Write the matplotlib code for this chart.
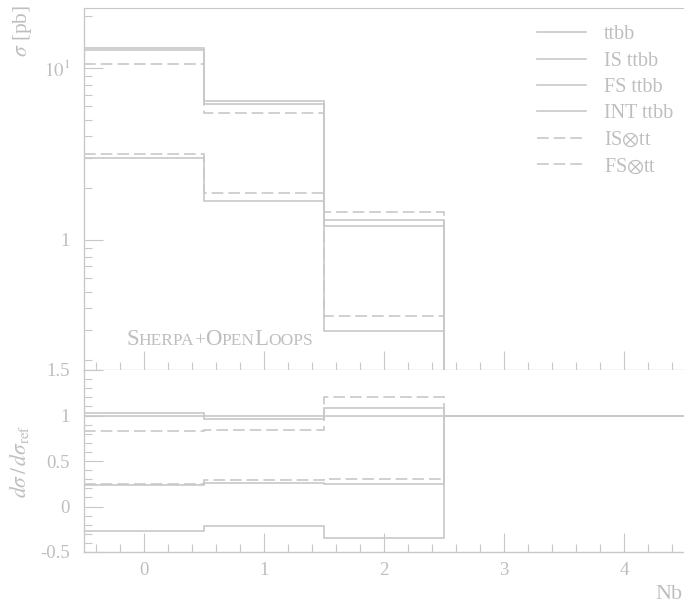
import numpy as np
import matplotlib

matplotlib.use("Agg")
import matplotlib.pyplot as plt
from matplotlib.ticker import FixedLocator, MultipleLocator, NullFormatter, FuncFormatter
from matplotlib.transforms import offset_copy

# Cross sections per b-jet multiplicity bin (pb)
edges = [-0.5, 0.5, 1.5, 2.5, 3.5, 4.5]
xs_ttbb = [12.7, 6.45, 1.21, 0.0, 0.0]
xs_is_ttbb = [13.0, 6.18, 1.31, 0.0, 0.0]
xs_fs_ttbb = [2.98, 1.68, 0.294, 0.0, 0.0]
xs_int_ttbb = [-3.4, -1.35, -0.415, 0.0, 0.0]
xs_is_tt = [10.5, 5.45, 1.45, 0.0, 0.0]
xs_fs_tt = [3.15, 1.88, 0.363, 0.0, 0.0]

labels = ["ttbb", "IS ttbb", "FS ttbb", "INT ttbb", r"IS$\otimes$tt", r"FS$\otimes$tt"]
series = [xs_ttbb, xs_is_ttbb, xs_fs_ttbb, xs_int_ttbb, xs_is_tt, xs_fs_tt]
dashed = [False, False, False, False, True, True]

GRIS = "#c8c8c8"
GRIS_TXT = "#bebebe"
DASH = (0, (7, 3))

plt.rcParams["font.family"] = ["Liberation Serif", "DejaVu Serif"]
plt.rcParams["mathtext.fontset"] = "stix"
plt.rcParams["text.color"] = GRIS_TXT
plt.rcParams["axes.labelcolor"] = GRIS_TXT
plt.rcParams["xtick.color"] = GRIS
plt.rcParams["ytick.color"] = GRIS
plt.rcParams["xtick.labelcolor"] = GRIS_TXT
plt.rcParams["ytick.labelcolor"] = GRIS_TXT

fig = plt.figure(figsize=(6.84, 6.05), dpi=100)
ax1 = fig.add_axes([84 / 684, 1 - 370 / 605, 600 / 684, 362 / 605])
ax2 = fig.add_axes([84 / 684, 1 - 552 / 605, 600 / 684, 182 / 605])

ref = np.array(xs_ttbb)
for vals, lab, dsh in zip(series, labels, dashed):
    ls = DASH if dsh else "-"
    v = np.array(vals)
    ax1.stairs(v, edges, baseline=None, color=GRIS, lw=1.2, linestyle=ls, label=lab)
    ratio = np.where(ref != 0, v / np.where(ref != 0, ref, 1), 1.0)
    ax2.stairs(ratio, edges, baseline=None, color=GRIS, lw=1.2, linestyle=ls)


def _estilo(ax):
    for s in ["top", "right"]:
        ax.spines[s].set_visible(False)
    for s in ["left", "bottom"]:
        ax.spines[s].set_color(GRIS)
        ax.spines[s].set_linewidth(1.0)
    ax.tick_params(which="both", direction="in", top=False, right=False, width=0.8)
    ax.tick_params(which="major", length=13.5)
    ax.tick_params(which="minor", length=5.8)
    ax.tick_params(labelsize=13.5)
    ax.set_xlim(-0.5, 4.5)
    ax.xaxis.set_major_locator(MultipleLocator(1))
    ax.xaxis.set_minor_locator(MultipleLocator(0.2))


_estilo(ax1)
ax1.spines["top"].set_visible(True)
ax1.spines["top"].set_color(GRIS)
ax1.set_yscale("log")
ax1.set_ylim(0.175, 22.3)
ax1.yaxis.set_major_locator(FixedLocator([1, 10]))
ax1.yaxis.set_minor_locator(FixedLocator([0.2, 0.3, 0.4, 0.5, 0.6, 0.7, 0.8, 0.9,
                                          2, 3, 4, 5, 6, 7, 8, 9, 20]))
ax1.yaxis.set_minor_formatter(NullFormatter())
ax1.yaxis.set_major_formatter(FuncFormatter(lambda v, p: "$10^1$" if v > 5 else "1"))
ax1.tick_params(axis="y", which="major", pad=10)
ax1.tick_params(labelbottom=False)
ax1.set_ylabel(r"$\sigma$ [pb]", loc="top", fontsize=15.5)
ax1.yaxis.set_label_coords(-0.084, 1.01)

leg = ax1.legend(loc="upper right", frameon=False, fontsize=14.5, handlelength=2.4,
                 handletextpad=0.9, labelspacing=0.36, borderaxespad=0.0,
                 bbox_to_anchor=(0.995, 0.975))

_estilo(ax2)
ax2.set_ylim(-0.5, 1.5)
ax2.yaxis.set_major_locator(MultipleLocator(0.5))
ax2.yaxis.set_minor_locator(MultipleLocator(0.1))
ax2.yaxis.set_major_formatter(FuncFormatter(lambda v, p: f"{v:g}"))
ax2.tick_params(axis="y", which="major", pad=10)
ax2.tick_params(axis="x", which="major", pad=7)
ax2.set_ylabel(r"$d\sigma\,/\,d\sigma_{\mathrm{ref}}$", fontsize=15.5)
ax2.yaxis.set_label_coords(-0.088, 0.5)
ax2.set_xlabel("Nb", fontsize=16, ha="right", va="center")
ax2.xaxis.set_label_coords(0.997, -0.235)

# Sherpa+OpenLoops em versaletes
partes = [("S", 16.5), ("HERPA", 12.5), ("+", 14), ("O", 16.5), ("PEN", 12.5),
          ("L", 16.5), ("OOPS", 12.5)]
renderer = fig.canvas.get_renderer()
desloc = 0.0
for txt, tam in partes:
    tr = offset_copy(ax1.transAxes, fig=fig, x=desloc, y=0, units="dots")
    t = ax1.text((126 - 84) / 600, (370 - 345) / 362, txt, transform=tr,
                 fontsize=tam, color=GRIS_TXT, va="baseline", ha="left")
    desloc += t.get_window_extent(renderer).width

fig.savefig("out.png", dpi=100)
